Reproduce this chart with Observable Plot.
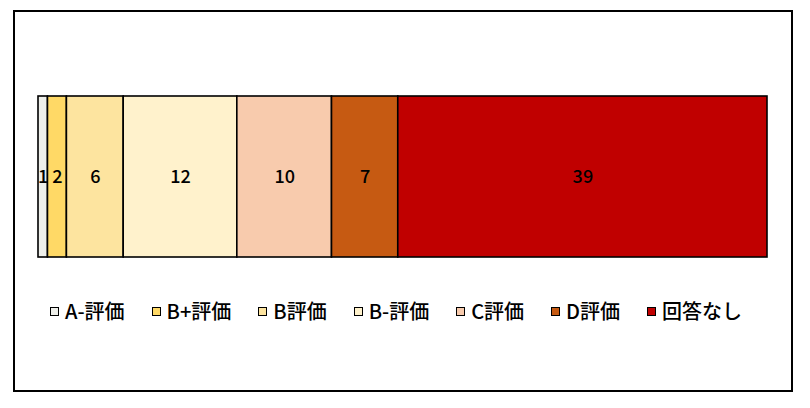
<!DOCTYPE html>
<html>
<head>
<meta charset="utf-8">
<script src="https://cdn.jsdelivr.net/npm/d3@7"></script>
<script src="https://cdn.jsdelivr.net/npm/@observablehq/plot@0.6"></script>
<style>
  body { margin: 0; background: #fff; font-family: "Noto Sans CJK JP", "Noto Sans", sans-serif; }
  #frame { position: absolute; left: 13px; top: 10px; width: 776px; height: 378px; border: 2px solid #000; background: #fff; }
  #chart { position: absolute; left: 0; top: 0; }
  #legend { position: absolute; left: 35px; top: 287px; display: flex; align-items: center; gap: 27px; font-size: 20px; font-weight: 500; line-height: 24px; color: #000; white-space: nowrap; }
  .item { display: flex; align-items: center; }
  .sw { width: 7px; height: 7px; border: 1px solid #000; margin-right: 6px; }
</style>
</head>
<body>
<div id="frame">
  <div id="chart"></div>
  <div id="legend"></div>
</div>
<script>
const categories = ["A-評価", "B+評価", "B評価", "B-評価", "C評価", "D評価", "回答なし"];
const values = [1, 2, 6, 12, 10, 7, 39];
const colors = ["#EEEFEA", "#FFD966", "#FDE49F", "#FFF2CC", "#F8CBAD", "#C65A12", "#C00000"];

const data = categories.map((c, i) => ({ cat: c, value: values[i] }));

const chart = Plot.plot({
  width: 776,
  height: 260,
  marginLeft: 23,
  marginRight: 24,
  marginTop: 84,
  marginBottom: 15,
  style: { background: "transparent", fontFamily: "'Noto Sans CJK JP', sans-serif" },
  x: { axis: null },
  y: { axis: null, domain: ["all"], padding: 0 },
  color: { domain: categories, range: colors },
  marks: [
    Plot.barX(data, Plot.stackX({ x: "value", y: () => "all", fill: "cat", stroke: "#000", strokeWidth: 1.6 })),
    Plot.text(data, Plot.stackX({ x: "value", y: () => "all", text: d => String(d.value), fill: "#000", fontSize: 18, fontWeight: 500 }))
  ]
});
document.getElementById("chart").appendChild(chart);

const legend = document.getElementById("legend");
categories.forEach((c, i) => {
  const item = document.createElement("div");
  item.className = "item";
  const sw = document.createElement("span");
  sw.className = "sw";
  sw.style.background = colors[i];
  const t = document.createElement("span");
  t.textContent = c;
  item.appendChild(sw);
  item.appendChild(t);
  legend.appendChild(item);
});
</script>
</body>
</html>
